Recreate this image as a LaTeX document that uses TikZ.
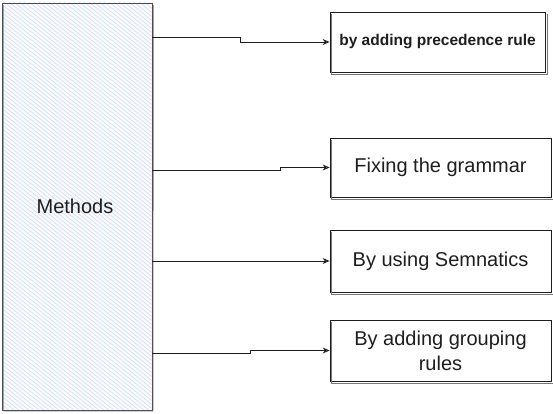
\documentclass[tikz,border=0pt]{standalone}
\usepackage{fontspec}
\setmainfont{Liberation Sans}
\usetikzlibrary{arrows.meta,calc}
\definecolor{ink}{HTML}{1E1E1E}
\definecolor{hatchblue}{RGB}{205,221,240}
\definecolor{edgegray}{RGB}{120,120,120}
\tikzset{
  x=1pt, y=-1pt,
  txt/.style={text=ink, font=\fontsize{20}{25}\selectfont},
  leafbox/.style={draw=ink, line width=0.8pt, minimum height=#1, inner sep=0pt, align=center, txt},
  shadowline/.style={draw=edgegray, line width=0.6pt},
  hatch/.style={draw=hatchblue, line width=0.55pt},
  conn/.style={draw=ink, line width=0.9pt, -{Stealth[length=7pt,width=6pt,open]}},
}
\begin{document}
\begin{tikzpicture}
\useasboundingbox (0,0) rectangle (553,414);
% Methods column
\node[draw=ink!80, line width=0.8pt, fill=blue!2, minimum width=150pt, minimum height=407pt, inner sep=0pt,
  path picture={
    \foreach \i in {-610,-605,...,80} {\draw[hatch] (\i,-210) -- ++(520,416);}
  }] (methods) at (77,206.5) {};
\draw[edgegray, line width=0.5pt] (3.5,5) -- (3.5,411) -- (153,411) -- (153.5,5);
\node[txt] (mlabel) at (75,206) {Methods};

% Leaf boxes
\node[leafbox=60pt, minimum width=215pt, font=\fontsize{15.5}{19}\selectfont\bfseries] (b1) at (437.5,42) {by adding precedence rule};
\node[leafbox=59pt, minimum width=221pt] (b2) at (440.5,167.5) {Fixing the grammar};
\node[leafbox=62pt, minimum width=221pt] (b3) at (440.5,261) {By using Semnatics};
\node[leafbox=61pt, minimum width=221pt] (b4) at (440.5,350.5) {By adding grouping\\rules};
\foreach \b in {b1,b2,b3,b4} {
  \draw[shadowline] ($(\b.north west)+(2,2)$) -- ($(\b.south west)+(2,2)$) -- ($(\b.south east)+(2,2)$) -- ($(\b.north east)+(2,2)$);
}

% connectors
\coordinate (s1) at (152,37);
\coordinate (s2) at (152,170);
\coordinate (s3) at (152,261);
\coordinate (s4) at (152,353);
\draw[conn] (s1) -- ++(88,0) |- (b1.west);
\draw[conn] (s2) -- ++(128,0) |- (b2.west);
\draw[conn] (s3) -- (b3.west);
\draw[conn] (s4) -- ++(98,0) |- (b4.west);
\end{tikzpicture}
\end{document}
